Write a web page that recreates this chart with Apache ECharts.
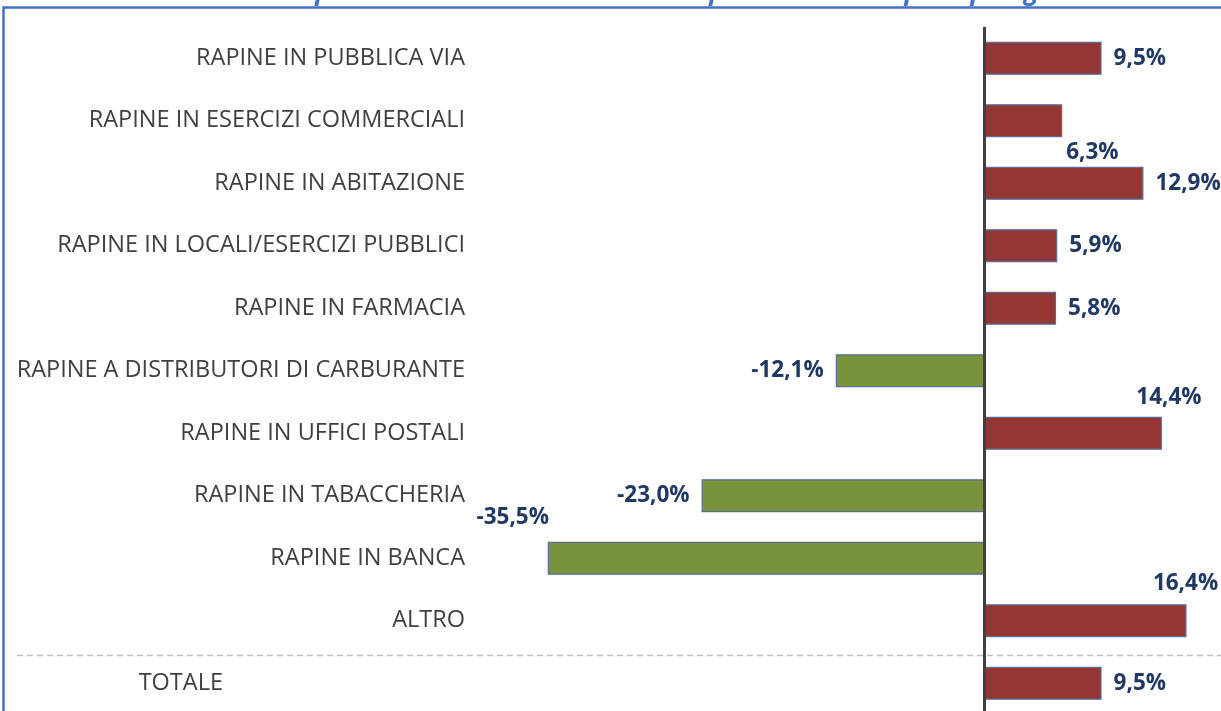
<!DOCTYPE html>
<html>
<head>
<meta charset="utf-8">
<script src="https://cdn.jsdelivr.net/npm/echarts@6/dist/echarts.min.js"></script>
<style>
  html, body { margin: 0; padding: 0; background: #fff; overflow: hidden; }
  #chart { width: 1221px; height: 720px; }
</style>
</head>
<body>
<div id="chart"></div>
<script>
// categorie (dall'alto verso il basso)
var categories = [
  'RAPINE IN PUBBLICA VIA',
  'RAPINE IN ESERCIZI COMMERCIALI',
  'RAPINE IN ABITAZIONE',
  'RAPINE IN LOCALI/ESERCIZI PUBBLICI',
  'RAPINE IN FARMACIA',
  'RAPINE A DISTRIBUTORI DI CARBURANTE',
  'RAPINE IN UFFICI POSTALI',
  'RAPINE IN TABACCHERIA',
  'RAPINE IN BANCA',
  'ALTRO',
  'TOTALE'
];
// variazione %
var variations = [9.5, 6.3, 12.9, 5.9, 5.8, -12.1, 14.4, -23.0, -35.5, 16.4, 9.5];

var title = 'Variazione percentuale del numero delle rapine commesse per tipologia';

var RED = '#943634';
var GREEN = '#77933C';
var NAVY = '#1F3864';

// posizione etichette (come nell'originale, alcune spostate)
function labelFor(i, v) {
  var base = {
    show: true,
    color: NAVY,
    fontFamily: 'Open Sans',
    fontWeight: 'bold',
    fontSize: 22.5,
    formatter: function (p) { return p.value.toFixed(1).replace('.', ',') + '%'; }
  };
  if (i === 1) {
    return Object.assign(base, { position: ['100%', '100%'], align: 'left', verticalAlign: 'top', offset: [4, 4] });
  }
  if (i === 6 || i === 9) {
    return Object.assign(base, { position: ['100%', 0], align: 'center', verticalAlign: 'bottom', offset: [i === 6 ? 7 : -1, i === 6 ? -8 : -9] });
  }
  if (i === 8) {
    return Object.assign(base, { position: [0, 0], align: 'center', verticalAlign: 'bottom', offset: [-35, -13] });
  }
  return Object.assign(base, { position: v < 0 ? 'left' : 'right', distance: 12 });
}

var chart = echarts.init(document.getElementById('chart'));

var option = {
  animation: false,
  grid: { left: 480, right: 0, top: 27, height: 687.5 },
  xAxis: {
    type: 'value',
    min: -41,
    max: 19.2,
    show: false
  },
  yAxis: {
    type: 'category',
    data: categories,
    inverse: true,
    axisLine: { show: false },
    axisTick: { show: false },
    axisLabel: {
      margin: 15,
      color: '#404040',
      fontFamily: 'Open Sans',
      fontSize: 23.5,
      formatter: function (v) { return v === 'TOTALE' ? '{tot|' + v + '}' : v; },
      rich: {
        tot: { color: '#404040', fontFamily: 'Open Sans', fontSize: 23.5, padding: [0, 242, 0, 0] }
      }
    }
  },
  series: [{
    type: 'bar',
    barWidth: 33,
    data: variations.map(function (v, i) {
      return {
        value: v,
        itemStyle: { color: v < 0 ? GREEN : RED, borderColor: '#5B6E99', borderWidth: 1.2 },
        label: labelFor(i, v)
      };
    }),
    markLine: {
      silent: true,
      symbol: 'none',
      label: { show: false },
      lineStyle: { color: '#404040', width: 3, type: 'solid' },
      data: [{ xAxis: 0 }]
    }
  }],
  graphic: [
    {
      id: 'frame',
      type: 'rect',
      shape: { x: 3.5, y: 7.5, width: 1400, height: 900 },
      style: { fill: null, stroke: '#4472C4', lineWidth: 2.5 },
      z: 10
    },
    {
      id: 'title',
      type: 'text',
      x: 620,
      y: 6,
      style: {
        text: title,
        align: 'center',
        verticalAlign: 'bottom',
        fill: '#4472C4',
        font: 'italic bold 26px "Open Sans"'
      },
      z: 10
    }
  ]
};

chart.setOption(option);

// linea tratteggiata tra ALTRO e TOTALE
var yA = chart.convertToPixel({ yAxisIndex: 0 }, 'ALTRO');
var yB = chart.convertToPixel({ yAxisIndex: 0 }, 'TOTALE');
var ySep = Math.round((yA + yB) / 2) + 3.5;
chart.setOption({
  graphic: [{
    id: 'sep',
    type: 'line',
    shape: { x1: 17, y1: ySep, x2: 1221, y2: ySep },
    style: { stroke: '#BFBFBF', lineWidth: 1.3, lineDash: [6, 4] },
    z: 1
  }]
});
</script>
</body>
</html>
